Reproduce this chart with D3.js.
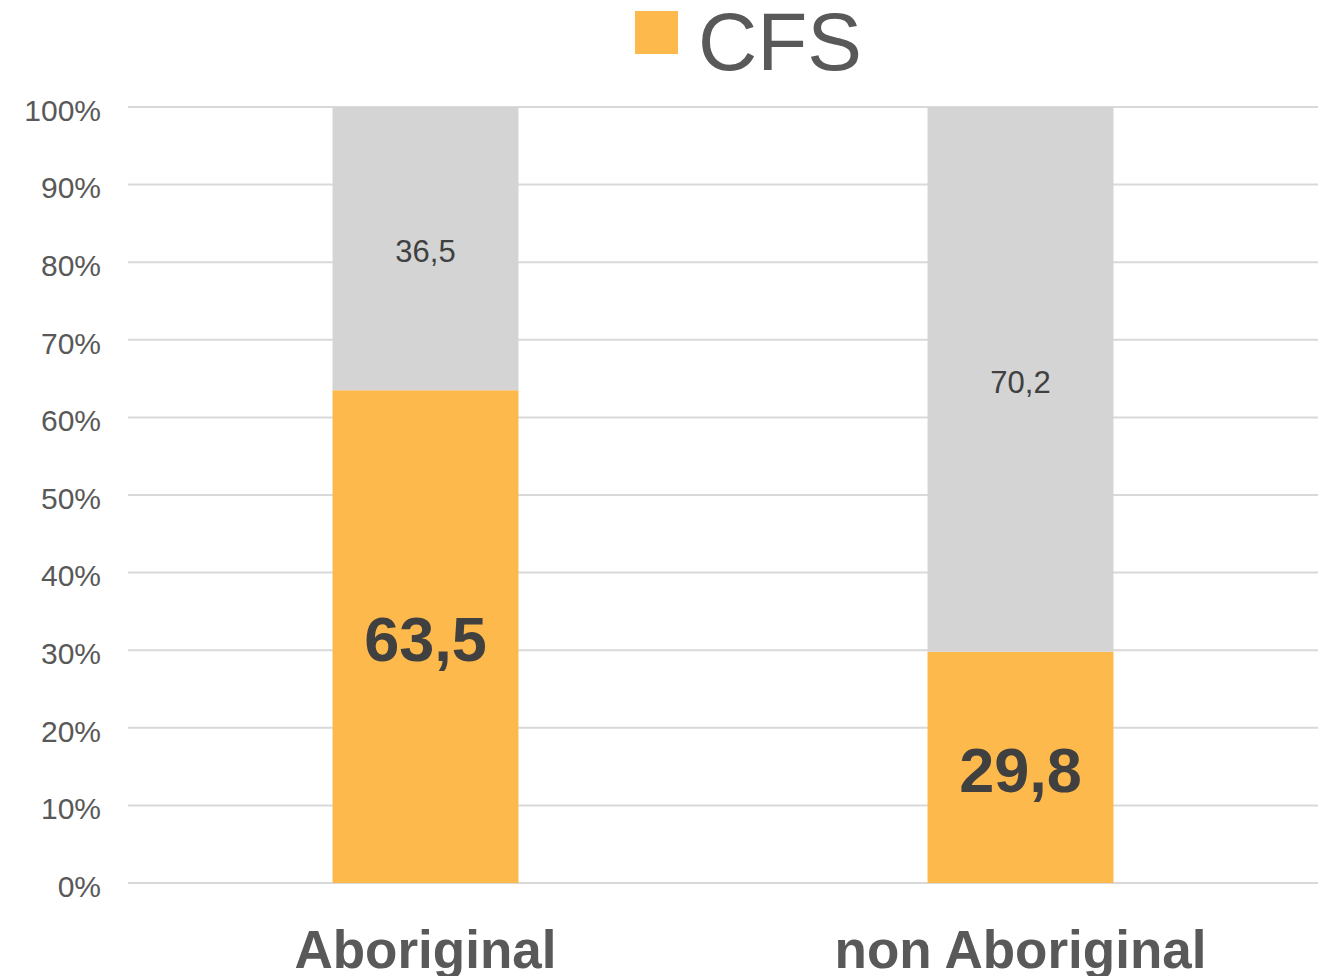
<!DOCTYPE html>
<html>
<head>
<meta charset="utf-8">
<script src="https://cdn.jsdelivr.net/npm/d3@7"></script>
<style>
  body { margin: 0; background: #fff; }
  svg { display: block; font-family: "Liberation Sans", Arial, sans-serif; }
</style>
</head>
<body>
<svg id="chart"></svg>
<script>
const categories = ["Aboriginal", "non Aboriginal"];
const cfsValues = [63.5, 29.8];
const otherValues = [36.5, 70.2];
const yTicks = [0, 10, 20, 30, 40, 50, 60, 70, 80, 90, 100];
const legendLabel = "CFS";

const width = 1325;
const height = 976;
const plotLeft = 128, plotRight = 1318, plotTop = 107, plotBottom = 883;

const fmt = (v) => String(v.toFixed(1)).replace(".", ",");

window.onload = function () {
  const svg = d3.select("#chart").attr("width", width).attr("height", height);

  const x = d3.scaleBand()
    .domain(categories)
    .range([plotLeft, plotRight])
    .paddingInner(0.6875)
    .paddingOuter(0.34375);

  const y = d3.scaleLinear().domain([0, 100]).range([plotBottom, plotTop]);

  // gridlines
  svg.append("g")
    .selectAll("line")
    .data(yTicks)
    .enter()
    .append("line")
    .attr("x1", plotLeft)
    .attr("x2", plotRight)
    .attr("y1", (d) => y(d))
    .attr("y2", (d) => y(d))
    .attr("stroke", "#d9d9d9")
    .attr("stroke-width", 2);

  // y tick labels
  svg.append("g")
    .selectAll("text")
    .data(yTicks)
    .enter()
    .append("text")
    .attr("x", 101)
    .attr("y", (d) => y(d) + 3)
    .attr("dy", "0.36em")
    .attr("text-anchor", "end")
    .attr("font-size", 30)
    .attr("fill", "#595959")
    .text((d) => d + "%");

  const rows = categories.map((c, i) => ({ cat: c, cfs: cfsValues[i], other: otherValues[i] }));

  // CFS segment
  svg.append("g")
    .selectAll("rect")
    .data(rows)
    .enter()
    .append("rect")
    .attr("x", (d) => x(d.cat))
    .attr("width", x.bandwidth())
    .attr("y", (d) => y(d.cfs))
    .attr("height", (d) => y(0) - y(d.cfs))
    .attr("fill", "#fdb94b");

  // remainder segment
  svg.append("g")
    .selectAll("rect")
    .data(rows)
    .enter()
    .append("rect")
    .attr("x", (d) => x(d.cat))
    .attr("width", x.bandwidth())
    .attr("y", (d) => y(d.cfs + d.other))
    .attr("height", (d) => y(d.cfs) - y(d.cfs + d.other))
    .attr("fill", "#d4d4d4");

  // labels in bars
  svg.append("g")
    .selectAll("text")
    .data(rows)
    .enter()
    .append("text")
    .attr("x", (d) => x(d.cat) + x.bandwidth() / 2)
    .attr("y", (d) => y(d.cfs / 2) + 2)
    .attr("dy", "0.36em")
    .attr("text-anchor", "middle")
    .attr("font-size", 63)
    .attr("font-weight", "bold")
    .attr("fill", "#404040")
    .text((d) => fmt(d.cfs));

  svg.append("g")
    .selectAll("text")
    .data(rows)
    .enter()
    .append("text")
    .attr("x", (d) => x(d.cat) + x.bandwidth() / 2)
    .attr("y", (d) => y(d.cfs + d.other / 2) + 2)
    .attr("dy", "0.36em")
    .attr("text-anchor", "middle")
    .attr("font-size", 31)
    .attr("fill", "#404040")
    .text((d) => fmt(d.other));

  // category labels
  svg.append("g")
    .selectAll("text")
    .data(categories)
    .enter()
    .append("text")
    .attr("x", (d) => x(d) + x.bandwidth() / 2)
    .attr("y", 968)
    .attr("text-anchor", "middle")
    .attr("font-size", 53)
    .attr("font-weight", "bold")
    .attr("fill", "#595959")
    .text((d) => d);

  // legend
  const legend = svg.append("g");
  legend.append("rect")
    .attr("x", 635)
    .attr("y", 11)
    .attr("width", 43)
    .attr("height", 43)
    .attr("fill", "#fdb94b");
  legend.append("text")
    .attr("x", 698)
    .attr("y", 70)
    .attr("font-size", 82)
    .attr("fill", "#595959")
    .text(legendLabel);
};
</script>
</body>
</html>
